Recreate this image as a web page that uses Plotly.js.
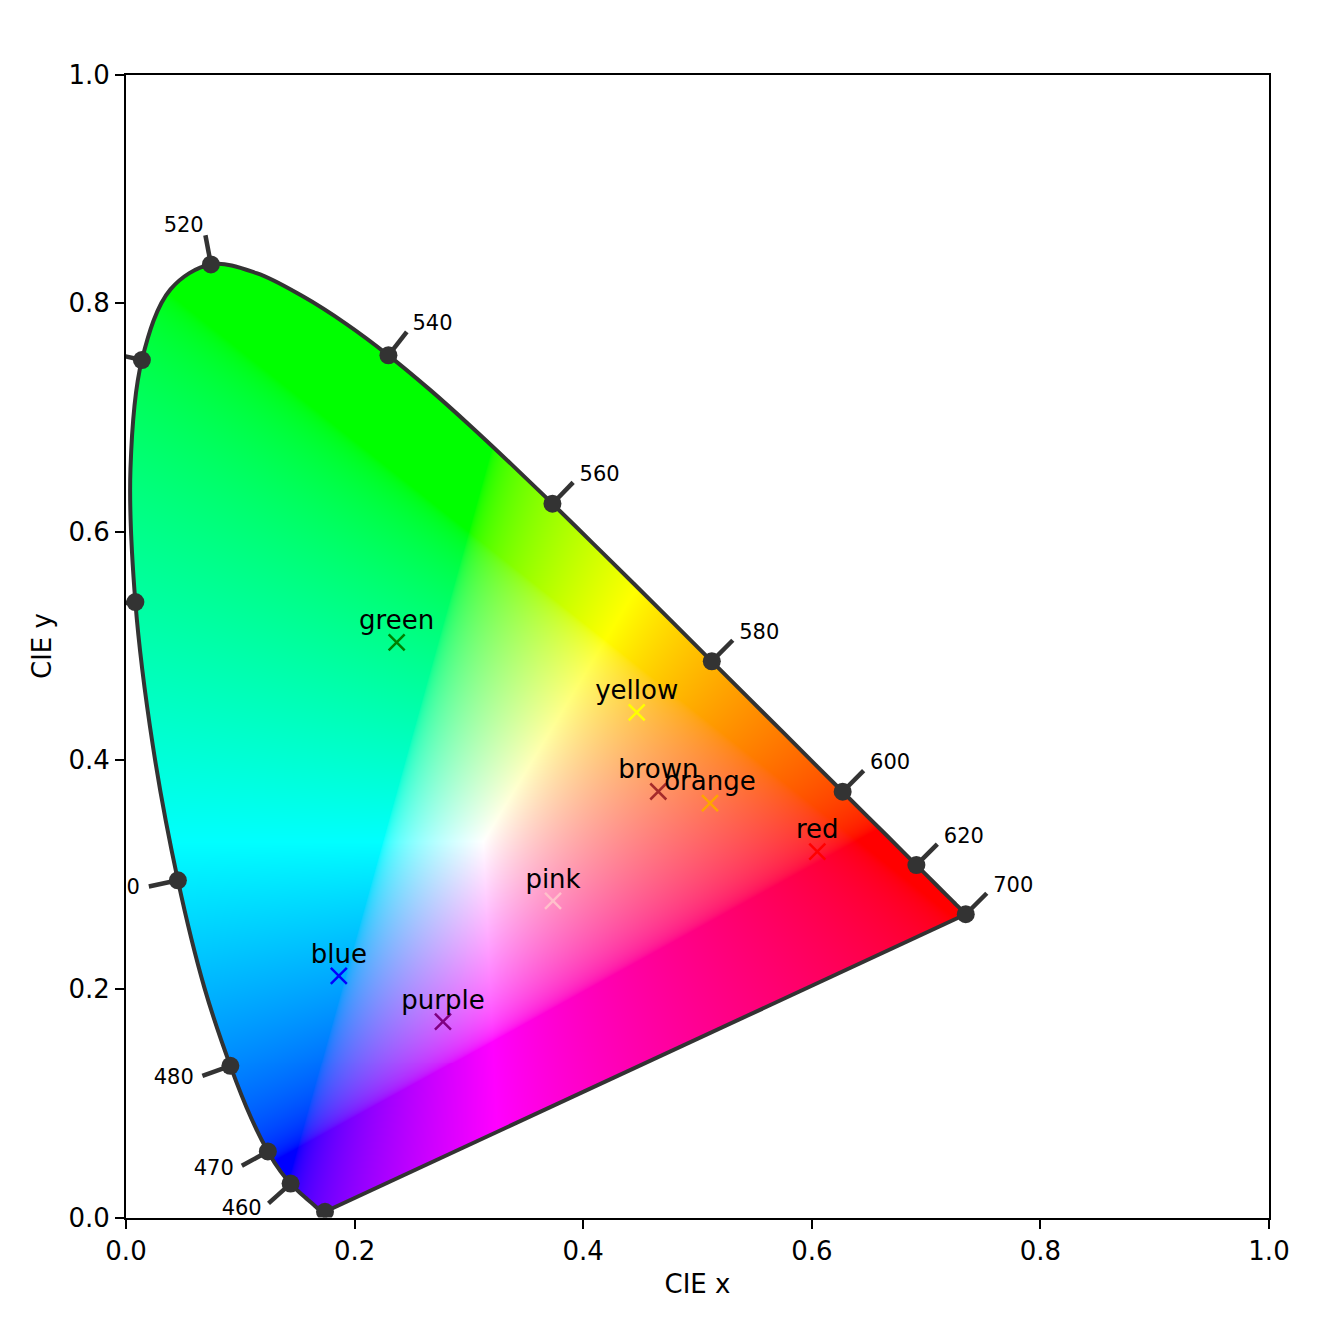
<!DOCTYPE html>
<html>
<head>
<meta charset="utf-8">
<script src="https://cdn.plot.ly/plotly-3.0.1.min.js"></script>
<style>html,body{margin:0;padding:0;background:#fff;}</style>
</head>
<body>
<div id="chart" style="width:1329px;height:1329px;"></div>
<script>
// CIE 1931 2-degree spectral locus, 380-700 nm in 5 nm steps
const wavelengths = [380,385,390,395,400,405,410,415,420,425,430,435,440,445,450,455,460,465,470,475,
  480,485,490,495,500,505,510,515,520,525,530,535,540,545,550,555,560,565,570,575,
  580,585,590,595,600,605,610,615,620,625,630,635,640,645,650,655,660,665,670,675,
  680,685,690,695,700];
const locusX = [0.1741,0.1740,0.1738,0.1736,0.1733,0.1730,0.1726,0.1721,0.1714,0.1703,0.1689,0.1669,0.1644,0.1611,0.1566,0.1510,0.1440,0.1355,0.1241,0.1096,
  0.0913,0.0687,0.0454,0.0235,0.0082,0.0039,0.0139,0.0389,0.0743,0.1142,0.1547,0.1929,0.2296,0.2658,0.3016,0.3373,0.3731,0.4087,0.4441,0.4788,
  0.5125,0.5448,0.5752,0.6029,0.6270,0.6482,0.6658,0.6801,0.6915,0.7006,0.7079,0.7140,0.7190,0.7230,0.7260,0.7283,0.7300,0.7311,0.7320,0.7327,
  0.7334,0.7340,0.7344,0.7346,0.7347];
const locusY = [0.0050,0.0050,0.0049,0.0049,0.0048,0.0048,0.0048,0.0048,0.0051,0.0058,0.0069,0.0086,0.0109,0.0138,0.0177,0.0227,0.0297,0.0399,0.0578,0.0868,
  0.1327,0.2007,0.2950,0.4127,0.5384,0.6548,0.7502,0.8120,0.8338,0.8262,0.8059,0.7816,0.7543,0.7243,0.6923,0.6589,0.6245,0.5896,0.5547,0.5202,
  0.4866,0.4544,0.4242,0.3965,0.3725,0.3514,0.3340,0.3197,0.3083,0.2993,0.2920,0.2859,0.2809,0.2770,0.2740,0.2717,0.2700,0.2689,0.2680,0.2673,
  0.2666,0.2660,0.2656,0.2654,0.2653];
const labelledWavelengths = [380,460,470,480,490,500,510,520,540,560,580,600,620,700];

// named colours plotted on the diagram
const colourNames = ['green','yellow','brown','orange','red','pink','blue','purple'];
const colourX = [0.2368,0.4468,0.4657,0.5109,0.6048,0.3736,0.1862,0.2773];
const colourY = [0.5032,0.4420,0.3727,0.3625,0.3202,0.2771,0.2115,0.1713];
const markerColours = ['#008000','#ffff00','#a52a2a','#ffa500','#ff0000','#ffc0cb','#0000ff','#800080'];

const axisTicks = [0,0.2,0.4,0.6,0.8,1.0];
const axisTickText = ['0.0','0.2','0.4','0.6','0.8','1.0'];

// ---------- boundary of the colour field: same Catmull-Rom smoothing Plotly uses for the spline line ----------
const SMOOTH = 1;
function makeTangent(p0, p1, p2, s) {
  const d1x = p0[0] - p1[0], d1y = p0[1] - p1[1];
  const d2x = p2[0] - p1[0], d2y = p2[1] - p1[1];
  const d1a = Math.pow(d1x * d1x + d1y * d1y, 0.25);
  const d2a = Math.pow(d2x * d2x + d2y * d2y, 0.25);
  const numx = (d2a * d2a * d1x - d1a * d1a * d2x) * s;
  const numy = (d2a * d2a * d1y - d1a * d1a * d2y) * s;
  const den1 = 3 * d2a * (d1a + d2a), den2 = 3 * d1a * (d1a + d2a);
  return [[p1[0] + (den1 && numx / den1), p1[1] + (den1 && numy / den1)],
          [p1[0] - (den2 && numx / den2), p1[1] - (den2 && numy / den2)]];
}
function smoothBoundary(xs, ys, steps) {
  const pts = xs.map((x, i) => [x, ys[i]]);
  const m = pts.length, tg = [];
  for (let i = 1; i < m - 1; i++) tg.push(makeTangent(pts[i - 1], pts[i], pts[i + 1], SMOOTH));
  const out = [pts[0]];
  const quad = (a, c, b) => { for (let k = 1; k <= steps; k++) { const t = k / steps, u = 1 - t;
      out.push([u*u*a[0] + 2*u*t*c[0] + t*t*b[0], u*u*a[1] + 2*u*t*c[1] + t*t*b[1]]); } };
  const cub = (a, c1, c2, b) => { for (let k = 1; k <= steps; k++) { const t = k / steps, u = 1 - t;
      out.push([u*u*u*a[0] + 3*u*u*t*c1[0] + 3*u*t*t*c2[0] + t*t*t*b[0],
                u*u*u*a[1] + 3*u*u*t*c1[1] + 3*u*t*t*c2[1] + t*t*t*b[1]]); } };
  quad(pts[0], tg[0][0], pts[1]);
  for (let i = 2; i < m - 1; i++) cub(pts[i - 1], tg[i - 2][1], tg[i - 1][0], pts[i]);
  quad(pts[m - 2], tg[m - 3][1], pts[m - 1]);
  return out;
}
const boundary = smoothBoundary(locusX, locusY, 12);

// ---------- colour field inside the locus (xy -> sRGB) ----------
function xyToRGB(x, y) {
  const X = x / y, Y = 1, Z = (1 - x - y) / y;
  let r = 3.2406 * X - 1.5372 * Y - 0.4986 * Z;
  let g = -0.9689 * X + 1.8758 * Y + 0.0415 * Z;
  let b = 0.0557 * X - 0.2040 * Y + 1.0570 * Z;
  r = Math.max(r, 0); g = Math.max(g, 0); b = Math.max(b, 0);
  const m = Math.max(r, g, b) || 1;
  const enc = v => { v = v / m; v = v <= 0.0031308 ? 12.92 * v : 1.055 * Math.pow(v, 1 / 2.4) - 0.055; return Math.round(Math.min(1, Math.max(0, v)) * 255); };
  return [enc(r), enc(g), enc(b)];
}

const pixDX = 1 / 1143, pixDY = 1 / 1144;
const maxX = Math.max(...boundary.map(p => p[0])), maxY = Math.max(...boundary.map(p => p[1]));
const W = Math.ceil((maxX + 0.01) / pixDX), H = Math.ceil((maxY + 0.01) / pixDY);
const cv = document.createElement('canvas');
cv.width = W; cv.height = H;
const ctx = cv.getContext('2d');
const img = ctx.createImageData(W, H);
const nb = boundary.length;
for (let r = 0; r < H; r++) {
  const yy = (r + 0.5) * pixDY;
  const xs = [];
  for (let i = 0; i < nb; i++) {
    const j = (i + 1) % nb;
    const y1 = boundary[i][1], y2 = boundary[j][1];
    if ((y1 <= yy && y2 > yy) || (y2 <= yy && y1 > yy)) {
      xs.push(boundary[i][0] + (yy - y1) / (y2 - y1) * (boundary[j][0] - boundary[i][0]));
    }
  }
  xs.sort((a, b) => a - b);
  for (let k = 0; k + 1 < xs.length; k += 2) {
    const c0 = Math.max(0, Math.ceil(xs[k] / pixDX - 0.5));
    const c1 = Math.min(W - 1, Math.floor(xs[k + 1] / pixDX - 0.5));
    for (let c = c0; c <= c1; c++) {
      const rgb = xyToRGB((c + 0.5) * pixDX, yy);
      const idx = (r * W + c) * 4;
      img.data[idx] = rgb[0]; img.data[idx + 1] = rgb[1]; img.data[idx + 2] = rgb[2]; img.data[idx + 3] = 255;
    }
  }
}
ctx.putImageData(img, 0, 0);

// ---------- wavelength ticks and labels ----------
const n = locusX.length;
const tickLen = 0.026, labelDist = 0.034;
const dotX = [], dotY = [], tickX = [], tickY = [], labX = [], labY = [], labText = [], labPos = [];
labelledWavelengths.forEach(w => {
  const i = wavelengths.indexOf(w);
  const p = Math.max(0, i - 1), q = Math.min(n - 1, i + 1);
  const tx = locusX[q] - locusX[p], ty = locusY[q] - locusY[p];
  const len = Math.hypot(tx, ty);
  const nx = -ty / len, ny = tx / len;
  dotX.push(locusX[i]); dotY.push(locusY[i]);
  tickX.push(locusX[i], locusX[i] + nx * tickLen, null);
  tickY.push(locusY[i], locusY[i] + ny * tickLen, null);
  labX.push(locusX[i] + nx * labelDist); labY.push(locusY[i] + ny * labelDist);
  labText.push(String(w));
  labPos.push(nx >= 0 ? 'middle right' : 'middle left');
});

const traces = [
  {type: 'image', source: cv.toDataURL('image/png'), x0: pixDX / 2, dx: pixDX, y0: pixDY / 2, dy: pixDY, hoverinfo: 'skip'},
  // spectral locus (smooth curve)
  {type: 'scatter', mode: 'lines', x: locusX, y: locusY,
   line: {color: '#333333', width: 4, shape: 'spline', smoothing: SMOOTH, simplify: false}, hoverinfo: 'skip'},
  // line of purples (700 nm back to 380 nm)
  {type: 'scatter', mode: 'lines', x: [locusX[n - 1], locusX[0]], y: [locusY[n - 1], locusY[0]],
   line: {color: '#333333', width: 4}, hoverinfo: 'skip'},
  {type: 'scatter', mode: 'lines', x: tickX, y: tickY, line: {color: '#333333', width: 4.5}, hoverinfo: 'skip'},
  {type: 'scatter', mode: 'markers', x: dotX, y: dotY, marker: {size: 18, color: '#333333'}, hoverinfo: 'skip'},
  {type: 'scatter', mode: 'text', x: labX, y: labY, text: labText, textposition: labPos,
   textfont: {family: 'DejaVu Sans', size: 21, color: '#000000'}, hoverinfo: 'skip'},
  // named colour crosses
  {type: 'scatter', mode: 'markers', x: colourX, y: colourY,
   marker: {symbol: 'x-thin-open', size: 16, color: markerColours, line: {width: 2.5, color: markerColours}}, hoverinfo: 'skip'},
  // their names
  {type: 'scatter', mode: 'markers+text', x: colourX, y: colourY, text: colourNames, textposition: 'top center',
   textfont: {family: 'DejaVu Sans', size: 26, color: '#000000'},
   marker: {size: 9, color: 'rgba(0,0,0,0)'}, hoverinfo: 'skip'}
];

const axisCommon = {
  range: [0, 1], tickmode: 'array', tickvals: axisTicks, ticktext: axisTickText,
  ticks: 'outside', ticklen: 9, tickwidth: 2, tickcolor: '#000000',
  showline: true, linecolor: '#000000', linewidth: 2, mirror: true,
  showgrid: false, zeroline: false, autorange: false,
  tickfont: {family: 'DejaVu Sans', size: 26, color: '#000000'}
};

const layout = {
  width: 1329, height: 1329,
  margin: {l: 126, r: 60, t: 74, b: 111, pad: 0},
  paper_bgcolor: '#ffffff', plot_bgcolor: '#ffffff',
  showlegend: false,
  font: {family: 'DejaVu Sans', size: 26, color: '#000000'},
  xaxis: Object.assign({}, axisCommon, {title: {text: 'CIE x', font: {size: 26}, standoff: 10}, scaleanchor: false}),
  yaxis: Object.assign({}, axisCommon, {title: {text: 'CIE y', font: {size: 26}, standoff: 9}})
};

Plotly.newPlot('chart', traces, layout, {staticPlot: true, displayModeBar: false});
</script>
</body>
</html>
